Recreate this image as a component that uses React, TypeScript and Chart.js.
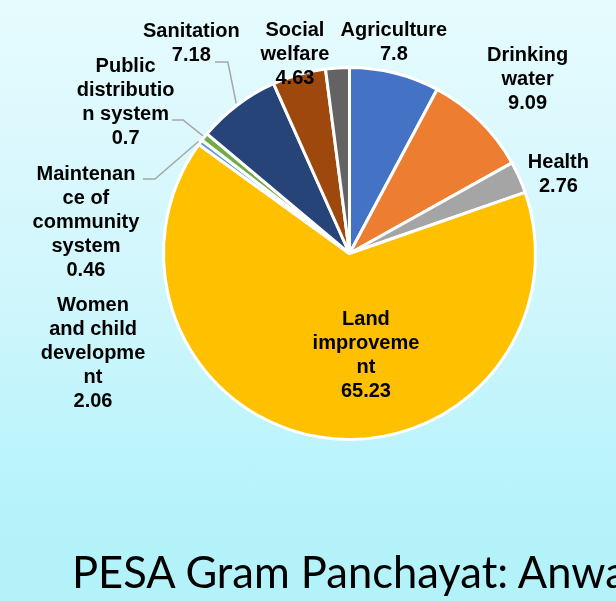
import React, { useEffect, useRef } from "react";
import { Chart, registerables } from "chart.js";

Chart.register(...registerables);

// ---- data ----
const categories = [
  "Agriculture",
  "Drinking water",
  "Health",
  "Land improvement",
  "Maintenance of community system",
  "Public distribution system",
  "Sanitation",
  "Social welfare",
  "Women and child development",
];
const values = [7.8, 9.09, 2.76, 65.23, 0.46, 0.7, 7.18, 4.63, 2.06];
const valueLabels = ["7.8", "9.09", "2.76", "65.23", "0.46", "0.7", "7.18", "4.63", "2.06"];
// category names as wrapped in the original labels
const labelLines = [
  ["Agriculture"],
  ["Drinking", "water"],
  ["Health"],
  ["Land", "improveme", "nt"],
  ["Maintenan", "ce of", "community", "system"],
  ["Public", "distributio", "n system"],
  ["Sanitation"],
  ["Social", "welfare"],
  ["Women", "and child", "developme", "nt"],
];
const title = "PESA Gram Panchayat: Anwa";

// ---- styles / layout ----
const colors = [
  "#4472C4",
  "#ED7D31",
  "#A5A5A5",
  "#FFC000",
  "#5B9BD5",
  "#70AD47",
  "#264478",
  "#9E480E",
  "#636363",
];
// label block centre, polar around the pie centre (angle clockwise from top, distance in radii)
const labelPlacement = [
  { angle: 11.9, dist: 1.157 },
  { angle: 45.6, dist: 1.34 },
  { angle: 69.4, dist: 1.2 },
  { angle: 170.8, dist: 0.553 },
  { angle: 276.8, dist: 1.427 },
  { angle: 304.0, dist: 1.452 },
  { angle: 323.0, dist: 1.413 },
  { angle: 344.7, dist: 1.112 },
  { angle: 248.7, dist: 1.48 },
];
// leader lines: stub start (dx, dy) and elbow x (ex) relative to the label centre
const leaders: ({ dx: number; dy: number; ex: number } | null)[] = [
  null,
  null,
  null,
  null,
  { dx: 57, dy: -43, ex: 69 },
  { dx: 46.5, dy: 17.5, ex: 57.5 },
  { dx: 23.5, dy: 18.5, ex: 36.5 },
  null,
  null,
];

const labelPlugin = {
  id: "sliceLabels",
  afterDatasetsDraw(chart: any) {
    const meta = chart.getDatasetMeta(0);
    const ctx = chart.ctx as CanvasRenderingContext2D;
    ctx.save();
    meta.data.forEach((arc: any, i: number) => {
      const { x, y, outerRadius, startAngle, endAngle } = arc.getProps(
        ["x", "y", "outerRadius", "startAngle", "endAngle"],
        true
      );
      const p = labelPlacement[i];
      const th = (p.angle * Math.PI) / 180;
      const lx = x + p.dist * outerRadius * Math.sin(th);
      const ly = y - p.dist * outerRadius * Math.cos(th);
      const lines = [...labelLines[i], valueLabels[i]];
      const lh = 24;
      ctx.font = "bold 20px 'Liberation Sans', Arial, sans-serif";
      ctx.fillStyle = "#000000";
      ctx.textAlign = "center";
      ctx.textBaseline = "middle";
      lines.forEach((t, k) => {
        ctx.fillText(t, lx, ly + (k - (lines.length - 1) / 2) * lh);
      });
      const ld = leaders[i];
      if (ld) {
        const mid = (startAngle + endAngle) / 2;
        const ax = x + (outerRadius + 2) * Math.cos(mid);
        const ay = y + (outerRadius + 2) * Math.sin(mid);
        ctx.strokeStyle = "#A6A6A6";
        ctx.lineWidth = 1.5;
        ctx.beginPath();
        ctx.moveTo(lx + ld.dx, ly + ld.dy);
        ctx.lineTo(lx + ld.ex, ly + ld.dy);
        ctx.lineTo(ax, ay);
        ctx.stroke();
      }
    });
    ctx.restore();
  },
};

export default function App() {
  const ref = useRef<HTMLCanvasElement | null>(null);
  useEffect(() => {
    if (!ref.current) return;
    const chart = new Chart(ref.current, {
      type: "pie",
      data: {
        labels: categories,
        datasets: [
          {
            data: values,
            backgroundColor: colors,
            borderColor: "#FFFFFF",
            borderWidth: 3,
          },
        ],
      },
      options: {
        responsive: false,
        maintainAspectRatio: false,
        animation: false,
        layout: { padding: { left: 162, right: 79, top: 66, bottom: 160 } },
        plugins: {
          legend: { display: false },
          tooltip: { enabled: false },
          title: { display: false },
        },
      },
      plugins: [labelPlugin],
    });
    return () => chart.destroy();
  }, []);

  return (
    <div
      style={{
        position: "fixed",
        left: 0,
        top: 0,
        width: 616,
        height: 601,
        overflow: "hidden",
        background: "linear-gradient(180deg, #E6FBFE 0%, #CFF6FC 50%, #B5F3FB 85%, #B4F2FA 100%)",
      }}
    >
      <canvas ref={ref} width={616} height={601} style={{ position: "absolute", left: 0, top: 0 }} />
      <div
        style={{
          position: "absolute",
          left: 72,
          top: 545,
          fontFamily: "Lato, 'Open Sans', sans-serif",
          fontSize: 43.5,
          lineHeight: "52px",
          color: "#000",
          whiteSpace: "nowrap",
        }}
      >
        {title}
      </div>
    </div>
  );
}
